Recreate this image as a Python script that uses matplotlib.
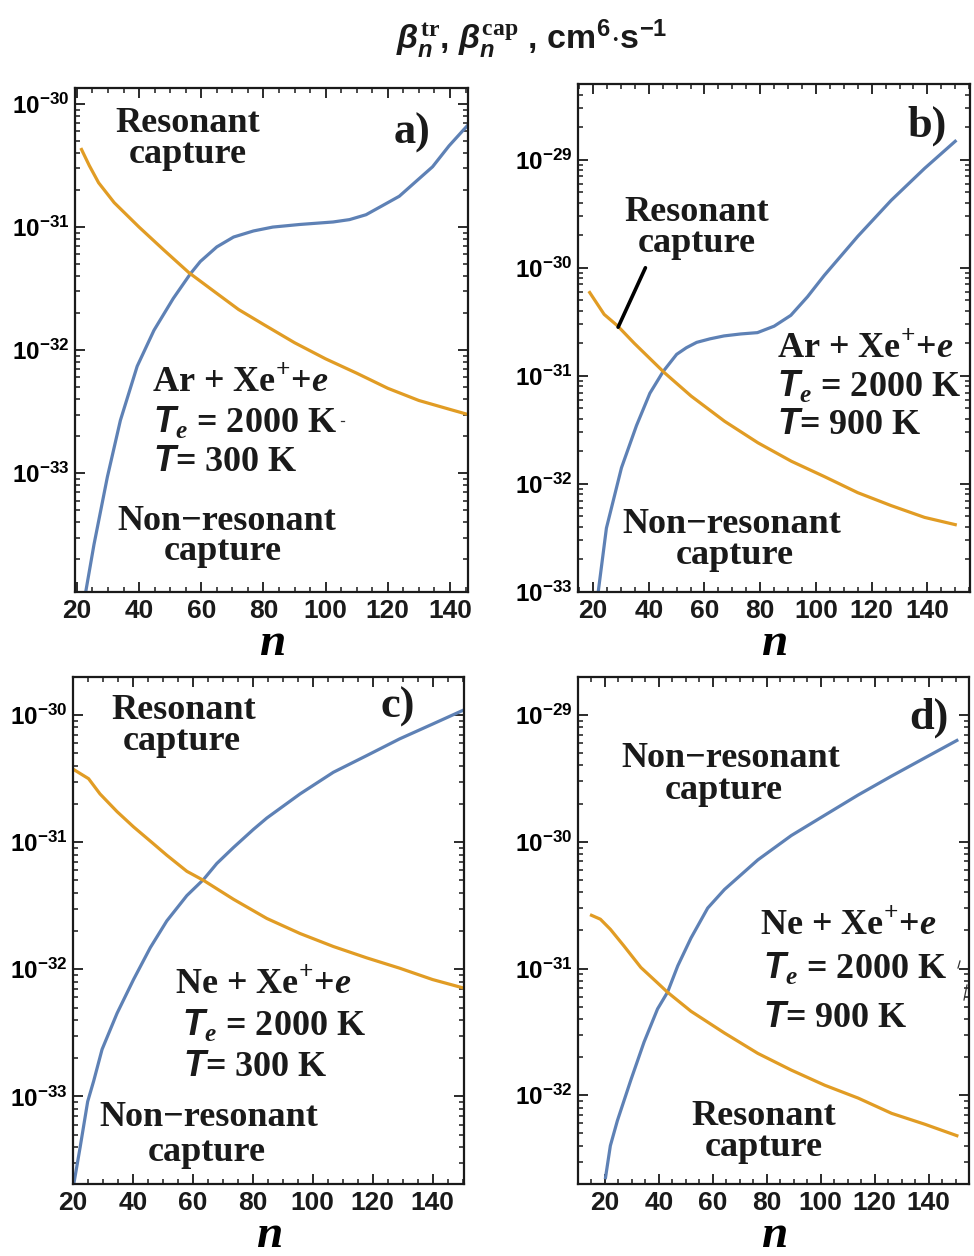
import matplotlib
matplotlib.use("Agg")
import matplotlib.pyplot as plt
from matplotlib.lines import Line2D
from matplotlib.ticker import LogLocator, MultipleLocator, FuncFormatter, NullFormatter
import numpy as np

plt.rcParams.update({
    "mathtext.fontset": "custom",
    "mathtext.rm": "Liberation Serif:bold",
    "mathtext.it": "Liberation Sans:italic:bold",
    "mathtext.bf": "Liberation Sans:bold",
    "mathtext.bfit": "Liberation Serif:italic:bold",
    "mathtext.sf": "Liberation Sans:bold",
})

# ---------------- data: rate coefficients (cm^6 s^-1) vs principal quantum number n
# (a) Ar + Xe+ + e, Te = 2000 K, T = 300 K
a_res_n = [21.5, 24, 27, 32, 40, 48, 56, 64, 72, 80, 90, 100, 110, 120, 130, 140, 145.8]
a_res_v = [4.27e-31, 3.16e-31, 2.29e-31, 1.58e-31, 1.0e-31, 6.5e-32, 4.27e-32, 3.02e-32,
           2.14e-32, 1.62e-32, 1.15e-32, 8.5e-33, 6.5e-33, 4.9e-33, 3.9e-33, 3.3e-33, 3.0e-33]
a_non_n = [22.6, 25.5, 29.8, 34, 39.4, 44.8, 51, 56.5, 59.7, 65, 70.4, 76.8, 83, 91.7,
           102.4, 107.7, 113, 118, 123.7, 129, 134.4, 139.7, 145.8]
a_non_v = [1.0e-34, 2.63e-34, 9.3e-34, 2.69e-33, 7.4e-33, 1.45e-32, 2.63e-32, 4.17e-32,
           5.25e-32, 6.9e-32, 8.3e-32, 9.3e-32, 1.0e-31, 1.05e-31, 1.10e-31, 1.15e-31,
           1.26e-31, 1.48e-31, 1.78e-31, 2.34e-31, 3.09e-31, 4.57e-31, 6.76e-31]

# (b) Ar + Xe+ + e, Te = 2000 K, T = 900 K
b_res_n = [18.8, 24, 28.8, 34.8, 45.6, 55.2, 67.2, 79.2, 91.2, 103, 115, 127, 139, 150]
b_res_v = [5.9e-31, 3.7e-31, 2.9e-31, 2.0e-31, 1.07e-31, 6.5e-32, 3.8e-32, 2.4e-32,
           1.62e-32, 1.17e-32, 8.3e-33, 6.3e-33, 4.9e-33, 4.2e-33]
b_non_n = [21.6, 24.8, 30.2, 35.6, 40.4, 45.2, 50, 53.5, 57.2, 62, 67, 73, 79, 85, 91,
           97, 103, 115, 127, 139, 150]
b_non_v = [8.9e-34, 3.9e-33, 1.41e-32, 3.47e-32, 6.9e-32, 1.10e-31, 1.58e-31, 1.82e-31,
           2.04e-31, 2.2e-31, 2.34e-31, 2.44e-31, 2.51e-31, 2.88e-31, 3.63e-31, 5.4e-31,
           8.5e-31, 1.95e-30, 4.2e-30, 8.3e-30, 1.48e-29]

# (c) Ne + Xe+ + e, Te = 2000 K, T = 300 K
c_res_n = [20, 25.2, 29, 34.7, 40.2, 45.8, 51.3, 58, 63.6, 73.6, 84.7, 95.8, 106.9,
           118, 129, 140, 150.5]
c_res_v = [3.76e-31, 3.16e-31, 2.4e-31, 1.74e-31, 1.32e-31, 1.02e-31, 7.9e-32, 5.9e-32,
           5.0e-32, 3.55e-32, 2.51e-32, 1.91e-32, 1.51e-32, 1.23e-32, 1.02e-32, 8.3e-33,
           7.1e-33]
c_non_n = [20.2, 22.4, 24.9, 26.9, 29.7, 34.7, 40.2, 45.8, 51.3, 58, 63.6, 68, 73.6,
           80.2, 84.7, 95.8, 106.9, 118, 129, 140, 150.5]
c_non_v = [2.0e-34, 4.0e-34, 9.1e-34, 1.32e-33, 2.34e-33, 4.5e-33, 8.3e-33, 1.48e-32,
           2.4e-32, 3.8e-32, 5.1e-32, 6.8e-32, 9.1e-32, 1.26e-31, 1.55e-31, 2.4e-31,
           3.55e-31, 4.8e-31, 6.5e-31, 8.5e-31, 1.10e-30]

# (d) Ne + Xe+ + e, Te = 2000 K, T = 900 K
d_res_n = [15, 18.3, 22, 27, 33.3, 39.5, 43.2, 51.9, 64.3, 76.7, 89.1, 101.5, 113.9,
           126.3, 138.7, 150.5]
d_res_v = [2.63e-31, 2.45e-31, 2.04e-31, 1.51e-31, 1.02e-31, 7.7e-32, 6.5e-32, 4.6e-32,
           3.1e-32, 2.14e-32, 1.58e-32, 1.20e-32, 9.5e-33, 7.2e-33, 5.9e-33, 4.8e-33]
d_non_n = [20.2, 22, 24.6, 29.6, 34.5, 39.5, 43.2, 47, 51.9, 58.1, 64.3, 76.7, 89.1,
           101.5, 113.9, 126.3, 138.7, 150.5]
d_non_v = [2.24e-33, 4.0e-33, 6.3e-33, 1.32e-32, 2.63e-32, 4.8e-32, 6.5e-32, 1.05e-31,
           1.74e-31, 3.0e-31, 4.2e-31, 7.2e-31, 1.12e-30, 1.62e-30, 2.34e-30, 3.3e-30,
           4.6e-30, 6.3e-30]

# axis ranges
a_xlim, a_ylim = (19.4, 145.8), (10 ** -33.965, 10 ** -29.87)
b_xlim, b_ylim = (14.6, 155.3), (1e-33, 10 ** -28.3)
c_xlim, c_ylim = (20, 150.5), (10 ** -33.69, 10 ** -29.70)
d_xlim, d_ylim = (10, 155), (10 ** -32.70, 10 ** -28.70)

x_ticks = [20, 40, 60, 80, 100, 120, 140]

BLUE = "#5E81B5"
ORANGE = "#E19C24"
INK = "#1a1a1a"

W, H = 974, 1256
fig = plt.figure(figsize=(W / 100, H / 100), dpi=100)


def px_axes(l, t, r, b):
    return fig.add_axes([l / W, 1 - b / H, (r - l) / W, (b - t) / H])


def ptext(x, y, s, size=26, ha="center", family="Liberation Serif", **kw):
    fig.text(x / W, 1 - y / H, s, ha=ha, va="baseline", fontsize=size,
             family=family, weight="bold", color=INK, **kw)


def sci_label(v, pos):
    e = int(round(np.log10(v)))
    return r"$\mathbf{10^{%d}}$" % e


def style(ax, xlim, ylim):
    ax.set_yscale("log")
    ax.set_xlim(*xlim)
    ax.set_ylim(*ylim)
    ax.set_xticks(x_ticks)
    ax.xaxis.set_minor_locator(MultipleLocator(5))
    lo, hi = np.floor(np.log10(ylim[0])), np.ceil(np.log10(ylim[1]))
    decades = 10.0 ** np.arange(lo, hi + 1)
    ax.set_yticks([d for d in decades if ylim[0] * 0.999 <= d <= ylim[1] * 1.001])
    ax.yaxis.set_minor_locator(LogLocator(base=10, subs=np.arange(2, 10), numticks=20))
    ax.yaxis.set_major_formatter(FuncFormatter(sci_label))
    ax.yaxis.set_minor_formatter(NullFormatter())
    ax.tick_params(which="both", direction="in", top=True, right=True, color=INK)
    ax.tick_params(which="major", length=7, width=1.3)
    ax.tick_params(which="minor", length=3.5, width=1.1)
    ax.tick_params(axis="x", which="major", labelsize=19, pad=5)
    ax.tick_params(axis="y", which="major", labelsize=17.5, pad=4)
    for lab in ax.get_xticklabels():
        lab.set_fontfamily("Liberation Sans")
        lab.set_fontweight("bold")
        lab.set_color(INK)
    for sp in ax.spines.values():
        sp.set_linewidth(1.6)
        sp.set_color(INK)
    ax.set_xlabel(r"$\mathbfit{n}$", fontsize=34, labelpad=-2)


panels = [
    ((75, 88, 468, 592), a_xlim, a_ylim, a_res_n, a_res_v, a_non_n, a_non_v),
    ((578, 84, 970, 592), b_xlim, b_ylim, b_res_n, b_res_v, b_non_n, b_non_v),
    ((73, 677, 464, 1184), c_xlim, c_ylim, c_res_n, c_res_v, c_non_n, c_non_v),
    ((578, 677, 969, 1184), d_xlim, d_ylim, d_res_n, d_res_v, d_non_n, d_non_v),
]

axes = []
for box, xl, yl, rn, rv, nn, nv in panels:
    ax = px_axes(*box)
    ax.plot(nn, nv, color=BLUE, lw=2.3, solid_joinstyle="round", clip_on=True)
    ax.plot(rn, rv, color=ORANGE, lw=2.3, solid_joinstyle="round", clip_on=True)
    style(ax, xl, yl)
    axes.append(ax)

# pointer from the "Resonant capture" label to its curve in panel b
b_pointer_from = (29.0, 10 ** -30.55)
b_pointer_to = (38.8, 10 ** -30.0)
axes[1].annotate("", xy=b_pointer_from, xytext=b_pointer_to,
                 arrowprops=dict(arrowstyle="-", color="black", lw=2.6,
                                 shrinkA=0, shrinkB=0))

# header
fig.text(532 / W, 1 - 49 / H,
         r"$\beta_{n}^{\mathrm{tr}}$, $\beta_{n}^{\mathrm{cap}}$ , cm$^{\mathbf{6}}$$\cdot$s$^{\mathbf{-1}}$",
         ha="center", va="baseline", fontsize=24.5, family="Liberation Sans",
         weight="bold", color=INK)

reaction_ar = r"Ar + Xe$^{+}$+$\mathbfit{e}$"
reaction_ne = r"Ne + Xe$^{+}$+$\mathbfit{e}$"
te_line = r"$T_{\mathbfit{e}}$ = 2000 K"

# panel a
ptext(412, 144, "a)", size=32)
ptext(188, 132, "Resonant")
ptext(188, 163, "capture")
ptext(152, 392, reaction_ar, ha="left")
ptext(153, 432, te_line, ha="left")
ptext(153, 471, r"$T$= 300 K", ha="left")
ptext(227, 530, "Non\u2212resonant")
ptext(223, 560, "capture")

# panel b
ptext(927, 137, "b)", size=32)
ptext(697, 221, "Resonant")
ptext(697, 252, "capture")
ptext(777, 358, reaction_ar, ha="left")
ptext(777, 396, te_line, ha="left")
ptext(777, 434, r"$T$= 900 K", ha="left")
ptext(732, 533, "Non\u2212resonant")
ptext(735, 564, "capture")

# panel c
ptext(398, 718, "c)", size=32)
ptext(184, 719, "Resonant")
ptext(182, 750, "capture")
ptext(175, 994, reaction_ne, ha="left")
ptext(182, 1035, te_line, ha="left")
ptext(183, 1076, r"$T$= 300 K", ha="left")
ptext(209, 1126, "Non\u2212resonant")
ptext(207, 1161, "capture")

# panel d
ptext(929, 729, "d)", size=32)
ptext(731, 767, "Non\u2212resonant")
ptext(724, 799, "capture")
ptext(760, 935, reaction_ne, ha="left")
ptext(763, 978, te_line, ha="left")
ptext(763, 1027, r"$T$= 900 K", ha="left")
ptext(764, 1125, "Resonant")
ptext(764, 1156, "capture")

# small stray strokes beside the labels
for (x0, y0, x1, y1) in [(341, 421, 344, 421), (958, 968, 960, 961), (964, 1000, 967, 985)]:
    fig.add_artist(Line2D([x0 / W, x1 / W], [1 - y0 / H, 1 - y1 / H],
                          transform=fig.transFigure, color="#333333", lw=0.9))

fig.savefig("out.png", dpi=100)
